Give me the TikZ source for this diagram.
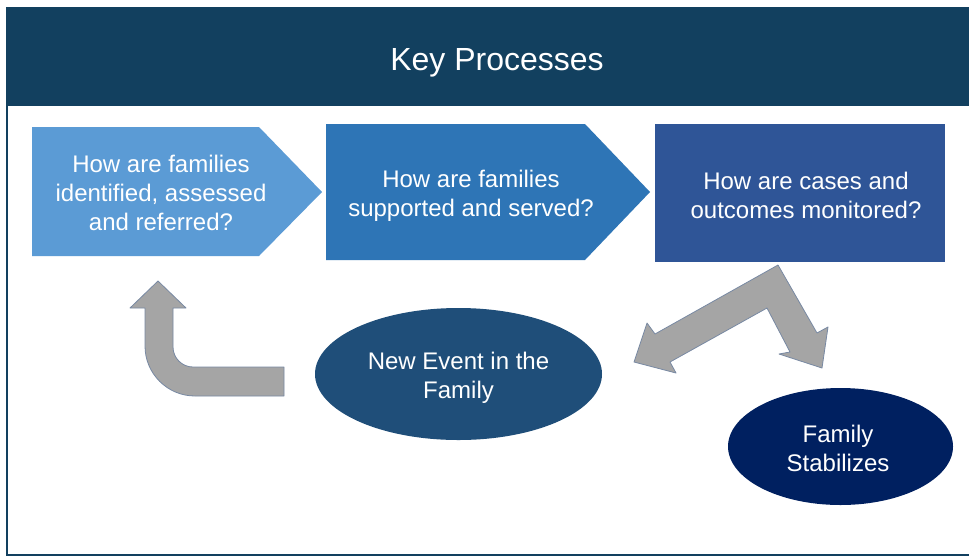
\documentclass[tikz,border=0pt]{standalone}
\usepackage{fontspec}
\setmainfont{Liberation Sans}
\usetikzlibrary{shapes.geometric}
\definecolor{hdr}{HTML}{12405F}
\definecolor{cA}{HTML}{5B9BD5}
\definecolor{cB}{HTML}{2E75B6}
\definecolor{cC}{HTML}{2F5597}
\definecolor{cD}{HTML}{1F4E79}
\definecolor{cE}{HTML}{002060}
\definecolor{grayfill}{HTML}{A5A5A5}
\definecolor{grayline}{HTML}{7889A3}
\tikzset{
  lbl/.style={text=white, align=center, font=\fontsize{24}{29}\selectfont, inner sep=0pt},
  blockarrow/.style={fill=grayfill, draw=grayline, line width=0.8pt, line join=round},
  oval/.style={ellipse, inner sep=0pt}
}
\begin{document}
\begin{tikzpicture}[x=1pt, y=-1pt]
\useasboundingbox (0,0) rectangle (969,558);
\fill[white] (0,0) rectangle (969,558);
% frame and header
\draw[hdr, line width=2pt] (7,8) rectangle (990,555);
\fill[hdr] (6,7) rectangle (990,106);
\node[lbl, font=\fontsize{32}{38}\selectfont] (title) at (497,63) {Key Processes};
% process shapes
\fill[cA] (32,127) -- (259,127) -- (322,192) -- (259,256) -- (32,256) -- cycle;
\fill[cB] (326,124) -- (585,124) -- (650,192) -- (585,260) -- (326,260) -- cycle;
\fill[cC] (655,124) rectangle (945,262);
\node[lbl] (p1) at (161,193) {How are families\\identified, assessed\\and referred?};
\node[lbl] (p2) at (471,196) {How are families\\supported and served?};
\node[lbl] (p3) at (806,195) {How are cases and\\outcomes monitored?};
% ellipses
\node[oval, fill=cD, minimum width=287pt, minimum height=132pt] (ev) at (458.5,374) {};
\node[lbl] (evt) at (458.5,378) {New Event in the\\Family};
\node[oval, fill=cE, minimum width=225pt, minimum height=117pt] (st) at (840.5,446.5) {};
\node[lbl] (stt) at (838,448) {Family\\Stabilizes};
% bent arrow (left)
\draw[blockarrow] (145,308) -- (145,346) .. controls (145,373.6) and (167.4,396) .. (195,396)
  -- (284,396) -- (284,367) -- (193,367) .. controls (182,367) and (173,358) .. (173,347)
  -- (173,308) -- (186,308) -- (158,281) -- (130,308) -- cycle;
% split arrow (right)
\draw[blockarrow] (778,265) -- (817,333) -- (828,327) -- (822,368) -- (779,354) -- (790,352)
  -- (767,308) -- (670,362) -- (676,373) -- (634,362) -- (647,323) -- (655,334) -- cycle;
\end{tikzpicture}
\end{document}
